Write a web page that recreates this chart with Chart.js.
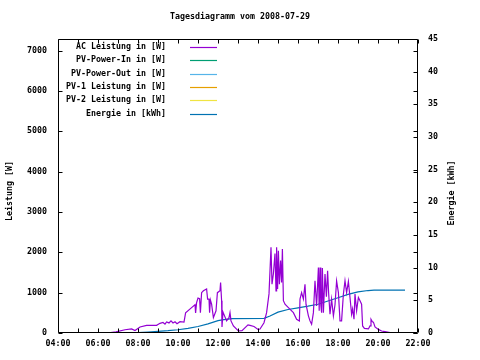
<!DOCTYPE html>
<html>
<head>
<meta charset="utf-8">
<script src="https://cdn.jsdelivr.net/npm/chart.js@4/dist/chart.umd.min.js"></script>
<style>
body{margin:0;background:#fff}
#wrap{width:480px;height:360px}
</style>
</head>
<body>
<div id="wrap"><canvas id="c" width="480" height="360"></canvas></div>
<script>
const titleText="Tagesdiagramm vom 2008-07-29"
const leftTitle="Leistung [W]"
const rightTitle="Energie [kWh]"

const seriesNames=["AC Leistung in [W]","PV-Power-In in [W]","PV-Power-Out in [W]","PV-1 Leistung in [W]","PV-2 Leistung in [W]","Energie in [kWh]"]
const seriesColors=["#9400d3","#009e73","#56b4e9","#e69f00","#f0e442","#0072b2"]

const leftTicks=[0,1000,2000,3000,4000,5000,6000,7000]

// AC power, hours of day / watts
const acHours=[6.45,6.9,7.35,7.68,7.85,8.1,8.43,8.93,9.1,9.25,9.35,9.43,9.55,9.65,9.75,9.85,9.95,10.1,10.3,10.38,10.68,10.85,10.88,10.93,11.0,11.08,11.12,11.18,11.27,11.43,11.48,11.55,11.58,11.62,11.68,11.77,11.9,11.97,12.1,12.13,12.18,12.2,12.25,12.43,12.55,12.6,12.65,12.77,13.02,13.2,13.5,13.6,13.8,14.0,14.1,14.3,14.43,14.55,14.65,14.7,14.77,14.85,14.9,14.93,14.98,15.02,15.07,15.13,15.18,15.22,15.27,15.35,15.52,15.77,15.93,16.07,16.1,16.18,16.27,16.35,16.4,16.52,16.6,16.68,16.77,16.85,16.93,17.02,17.06,17.1,17.14,17.18,17.22,17.27,17.35,17.42,17.48,17.53,17.6,17.68,17.77,17.85,17.93,18.02,18.1,18.18,18.27,18.35,18.43,18.52,18.6,18.68,18.73,18.8,18.85,18.93,19.02,19.1,19.18,19.23,19.32,19.52,19.6,19.65,19.72,19.77,19.85,20.02,20.18,20.35,20.6,20.68]
const acWatts=[0,30,80,100,60,150,190,190,240,260,220,275,250,300,250,280,230,280,270,500,630,700,500,755,865,850,505,1000,1045,1090,840,840,505,820,715,380,550,1000,1050,1250,800,150,520,300,380,505,300,175,50,60,200,190,160,90,100,255,505,970,2125,1210,1470,1970,1045,2125,1090,2040,1210,1795,1250,2085,800,715,630,505,340,300,840,1000,840,1210,715,425,300,215,505,1295,670,1625,550,1625,700,505,1610,505,1460,900,1545,1000,465,840,425,700,1290,1000,300,300,965,1295,1000,1280,880,465,600,340,965,550,880,800,715,175,115,100,175,340,280,270,150,90,50,35,10,0]

// cumulated energy, hours of day / kWh
const enHours=[7.55,8.0,8.5,9.0,9.5,10.0,10.5,11.0,11.5,12.0,12.3,12.7,14.3,14.6,15.0,15.5,16.0,16.5,17.0,17.5,18.0,18.5,19.0,19.5,19.8,21.35]
const enKwh=[0,0.05,0.15,0.25,0.35,0.5,0.7,1.0,1.4,1.9,2.05,2.2,2.25,2.6,3.2,3.6,3.85,4.1,4.4,4.9,5.4,5.9,6.3,6.5,6.56,6.56]

const FONT="'DejaVu Sans Mono', monospace"
const FS=8.3

function pts(xs,ys){return xs.map((x,i)=>({x:x,y:ys[i]}))}
function hh(v){return (v<10?"0":"")+v+":00"}

const datasets=seriesNames.map((n,i)=>({
label:n,
data:i===0?pts(acHours,acWatts):i===5?pts(enHours,enKwh):[],
borderColor:seriesColors[i],
backgroundColor:seriesColors[i],
borderWidth:1.2,
pointRadius:0,
tension:0,
yAxisID:i===5?"y2":"y"
}))

const deco={
id:"deco",
afterDraw(chart){
const c=chart.ctx,a=chart.chartArea
const x=chart.scales.x,y=chart.scales.y,y2=chart.scales.y2
c.save()
c.strokeStyle="#000"
c.lineWidth=1
c.beginPath()
const L=Math.round(a.left)+0.5,R=Math.round(a.right)-0.5,T=Math.round(a.top)+0.5,B=Math.round(a.bottom)-0.5
c.rect(L,T,R-L,B-T)
x.ticks.forEach(t=>{
const p=Math.round(x.getPixelForValue(t.value))+0.5
c.moveTo(p,B);c.lineTo(p,B-4)
c.moveTo(p,T);c.lineTo(p,T+4)
})
y.ticks.forEach(t=>{
const p=Math.round(y.getPixelForValue(t.value))+0.5
c.moveTo(L,p);c.lineTo(L+4,p)
c.moveTo(R,p);c.lineTo(R-4,p)
})
y2.ticks.forEach(t=>{
const p=Math.round(y2.getPixelForValue(t.value))+0.5
c.moveTo(R,p);c.lineTo(R-4,p)
})
c.stroke()

// legend
c.font="bold "+FS+"px "+FONT
c.fillStyle="#000"
c.textBaseline="middle"
chart.data.datasets.forEach((d,i)=>{
const ly=47+13.3*i
c.textAlign="right"
c.fillText(d.label,166,ly)
c.beginPath()
c.strokeStyle=d.borderColor
c.lineWidth=1.2
c.moveTo(190,Math.round(ly)+0.5);c.lineTo(217,Math.round(ly)+0.5)
c.stroke()
})

// axis titles
c.fillStyle="#000"
c.textAlign="center"
c.save()
c.translate(10,191)
c.rotate(-Math.PI/2)
c.fillText(leftTitle,0,0)
c.restore()
c.save()
c.translate(452,193)
c.rotate(-Math.PI/2)
c.fillText(rightTitle,0,0)
c.restore()
c.restore()
}
}

new Chart(document.getElementById("c"),{
type:"line",
data:{datasets:datasets},
options:{
responsive:false,
animation:false,
layout:{padding:0},
plugins:{
legend:{display:false},
tooltip:{enabled:false},
title:{display:true,text:titleText,color:"#000",font:{family:FONT,size:FS,weight:"bold"},padding:{top:12,bottom:17}}
},
scales:{
x:{
type:"linear",min:4,max:22,
grid:{display:false,drawTicks:false},
border:{display:false},
afterFit(s){s.height=27},
ticks:{stepSize:1,autoSkip:false,maxRotation:0,padding:6,color:"#000",font:{family:FONT,size:FS,weight:"bold"},
callback:v=>v%2===0?hh(v):""}
},
y:{
position:"left",min:0,max:7290,
grid:{display:false,drawTicks:false},
border:{display:false},
afterFit(s){s.width=58},
afterBuildTicks(s){s.ticks=leftTicks.map(v=>({value:v}))},
ticks:{autoSkip:false,padding:11,color:"#000",font:{family:FONT,size:FS,weight:"bold"},callback:v=>String(v)}
},
y2:{
position:"right",min:0,max:45,
grid:{display:false,drawTicks:false},
border:{display:false},
afterFit(s){s.width=62},
ticks:{stepSize:5,autoSkip:false,padding:10,color:"#000",font:{family:FONT,size:FS,weight:"bold"}}
}
}
},
plugins:[deco]
})
</script>
</body>
</html>
